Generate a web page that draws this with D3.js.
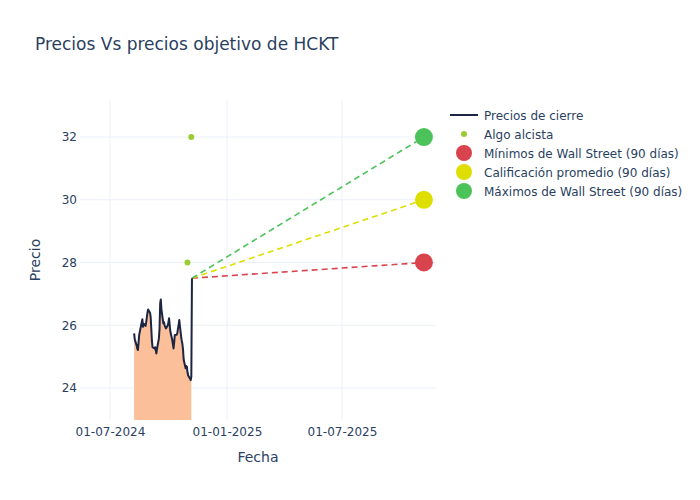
<!DOCTYPE html>
<html><head><meta charset="utf-8">
<script src="https://cdn.jsdelivr.net/npm/d3@7"></script>
<style>body{margin:0;background:#fff}svg{font-family:"DejaVu Sans",sans-serif}</style>
</head><body><svg id="c" width="700" height="500"></svg>
<script>
// ---- data ----
const startDate = "2024-08-08";
const closePrices = [25.74,25.55,25.35,25.25,25.21,25.45,25.7,26.0,26.1,26.19,25.95,26.05,25.98,26.1,26.25,26.4,26.5,26.4,26.27,25.9,25.5,25.3,25.26,25.3,25.2,25.1,25.25,25.58,25.9,26.7,26.82,26.5,26.06,26.1,26.0,25.95,25.9,26.0,26.1,26.22,26.0,25.8,25.53,25.4,25.26,25.45,25.69,25.7,25.75,25.9,26.0,26.17,25.63,25.5,25.4,25.21,24.9,24.63,24.7,24.68,24.5,24.4,24.3,24.25,24.36,27.5];
const bullDates = ["2024-10-31","2024-11-06"];
const bullValues = [28, 32];
const targetDate = "2025-11-07";
const targetNames = ["Mínimos de Wall Street (90 días)","Calificación promedio (90 días)","Máximos de Wall Street (90 días)"];
const targetValues = [28, 30, 32];
const targetColors = ["#d9434e","#dede00","#4cc35a"];
const xTickDates = ["2024-07-01","2025-01-01","2025-07-01"];
const xTickLabels = ["01-07-2024","01-01-2025","01-07-2025"];
const yTicks = [24,26,28,30,32];

// ---- build dates (weekdays) ----
const parse = d3.utcParse("%Y-%m-%d");
const priceDates = [];
{ let d = parse(startDate); while (priceDates.length < closePrices.length) { const wd = d.getUTCDay(); if (wd !== 0 && wd !== 6) priceDates.push(new Date(d)); d = d3.utcDay.offset(d, 1); } }
const prices = closePrices.map((v,i)=>({date:priceDates[i], v}));
const lastP = prices[prices.length-1];

const svg = d3.select("#c");
const L=80, R=436, T=100, B=420;
const x = d3.scaleUtc().domain([new Date(Date.UTC(2024,4,14,20)), new Date(Date.UTC(2025,10,26))]).range([L,R]);
const y = d3.scaleLinear().domain([22.98, 33.18]).range([B,T]);
const txt = "#2a3f5f";

// grid
const g = svg.append("g");
g.selectAll(".gy").data(yTicks).join("line").attr("x1",L).attr("x2",R).attr("y1",d=>y(d)).attr("y2",d=>y(d)).attr("stroke","#ebf0f8");
g.selectAll(".gx").data(xTickDates).join("line").attr("x1",d=>x(parse(d))).attr("x2",d=>x(parse(d))).attr("y1",T).attr("y2",B).attr("stroke","#ebf0f8");

// axes labels via d3 axes
const yAxis = d3.axisLeft(y).tickValues(yTicks).tickSize(0).tickPadding(3);
const ya = svg.append("g").attr("transform",`translate(${L},0)`).call(yAxis);
const xAxis = d3.axisBottom(x).tickValues(xTickDates.map(parse)).tickSize(0).tickPadding(7).tickFormat((d,i)=>xTickLabels[i]);
const xa = svg.append("g").attr("transform",`translate(0,${B})`).call(xAxis);
[ya,xa].forEach(a=>{a.select(".domain").remove(); a.selectAll("text").attr("fill",txt).style("font-size","12px").style("font-family","'DejaVu Sans',sans-serif");});

svg.append("clipPath").attr("id","clip").append("rect").attr("x",L).attr("y",T).attr("width",R-L).attr("height",B-T);
const plot = svg.append("g").attr("clip-path","url(#clip)");

// area
plot.append("path").datum(prices.slice(0,-1)).attr("fill","#fbbf99")
  .attr("d", d3.area().x(d=>x(d.date)).y0(B).y1(d=>y(d.v)));
// target lines
targetValues.forEach((v,i)=>{
  plot.append("line").attr("x1",x(lastP.date)).attr("y1",y(lastP.v)).attr("x2",x(parse(targetDate))).attr("y2",y(v))
   .attr("stroke",targetColors[i]).attr("stroke-width",1.6).attr("stroke-dasharray","6,4");
});
// price line
plot.append("path").datum(prices).attr("fill","none").attr("stroke","#1c2541").attr("stroke-width",2)
  .attr("stroke-linejoin","round").attr("d", d3.line().x(d=>x(d.date)).y(d=>y(d.v)));
// bull points
plot.selectAll(".bull").data(bullDates).join("circle").attr("cx",d=>x(parse(d))).attr("cy",(d,i)=>y(bullValues[i])).attr("r",3).attr("fill","#9acd32");
// target markers
svg.selectAll(".tm").data(targetValues).join("circle").attr("cx",x(parse(targetDate))).attr("cy",d=>y(d)).attr("r",9).attr("fill",(d,i)=>targetColors[i]);

// titles
svg.append("text").attr("x",35).attr("y",50).attr("fill",txt).style("font-size","17px").text("Precios Vs precios objetivo de HCKT");
svg.append("text").attr("x",(L+R)/2).attr("y",462).attr("text-anchor","middle").attr("fill",txt).style("font-size","14px").text("Fecha");
svg.append("text").attr("transform",`translate(40,${(T+B)/2}) rotate(-90)`).attr("text-anchor","middle").attr("fill",txt).style("font-size","14px").text("Precio");

// legend
const lg = svg.append("g").attr("transform","translate(450,115)");
const items = [{n:"Precios de cierre",t:"line"},{n:"Algo alcista",t:"s"},...targetNames.map((n,i)=>({n,t:"b",c:targetColors[i]}))];
items.forEach((it,i)=>{
  const row = lg.append("g").attr("transform",`translate(0,${i*19})`);
  if(it.t==="line") row.append("line").attr("x1",0).attr("x2",28).attr("stroke","#1c2541").attr("stroke-width",2);
  else if(it.t==="s") row.append("circle").attr("cx",14).attr("r",3).attr("fill","#9acd32");
  else row.append("circle").attr("cx",14).attr("r",8).attr("fill",it.c);
  row.append("text").attr("x",34).attr("y",4.5).attr("fill",txt).style("font-size","12px").text(it.n);
});
</script></body></html>
